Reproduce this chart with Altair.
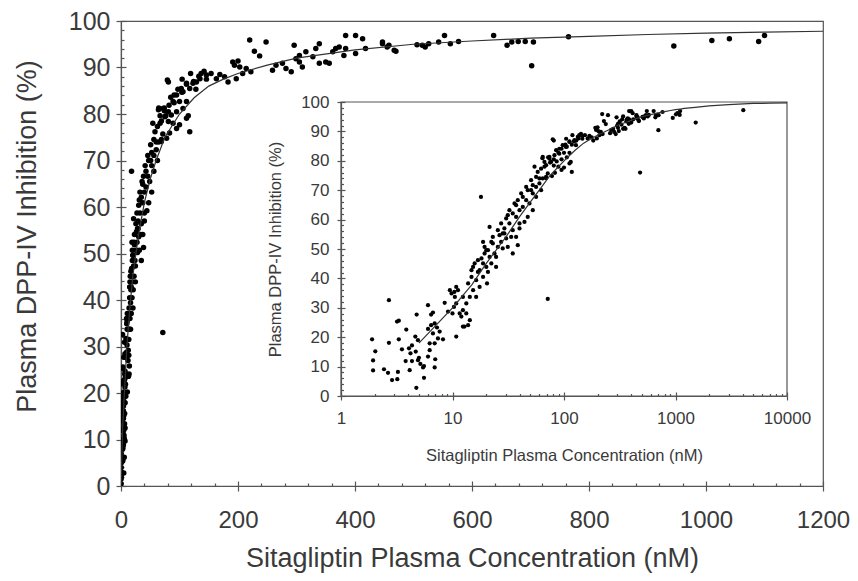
import altair as alt
import pandas as pd

# ---------------- data ----------------
conc_sub = [0.2, 0.3, 0.5, 0.5, 0.6, 0.7, 0.8, 0.9, 0.95, 0.4, 0.85, 0.75, 0.4, 0.9, 0.6]
inh_sub = [1.5, 0.5, 2.0, 10.0, 5.0, 3.0, 8.0, 12.0, 6.0, 4.0, 14.0, 10.0, 7.0, 22.0, 17.0]

conc_low = [1.90, 2.03, 1.94, 1.94, 2.43, 2.64, 2.87, 3.20, 3.24, 2.69, 2.69, 3.18, 3.30, 3.30, 3.85,
            3.52, 4.07, 4.33, 3.80, 4.13, 4.77, 4.64, 4.90, 4.68, 4.33, 4.90, 5.15, 5.44, 5.55, 4.74,
            5.55, 6.03, 6.68, 6.43, 6.03, 6.43, 6.68, 6.92, 7.26, 7.67, 6.24, 6.24, 6.03, 6.92, 7.40,
            8.22, 6.92, 8.51, 9.12, 10.0, 10.8, 10.4, 4.20, 5.00, 7.00]
inh_low = [19.3, 15.2, 12.1, 8.7, 9.1, 7.9, 5.4, 5.7, 8.2, 18.1, 32.6, 25.3, 25.6, 19.3, 22.6,
           15.9, 16.2, 17.2, 11.9, 8.8, 27.7, 20.2, 19.0, 15.1, 11.9, 12.2, 10.9, 9.7, 10.2, 2.8,
           6.2, 30.9, 28.4, 27.7, 22.8, 24.1, 21.3, 24.7, 23.3, 21.9, 17.9, 15.6, 13.4, 17.9, 19.6,
           19.3, 9.7, 31.7, 28.7, 28.1, 20.2, 35.4, 14.5, 13.0, 12.5]

conc_mid = [9.47, 9.8, 10.3, 10.8, 11.2, 11.6, 12.0, 12.4, 12.8, 13.8, 14.3, 12.4, 13.3, 13.8, 14.3,
            14.8, 15.3, 15.3, 16.3, 16.3, 16.9, 18.0, 17.5, 17.5, 18.8, 18.8, 19.4, 20.1, 20.4, 20.8,
            21.5, 22.3, 23.0, 23.8, 24.6, 25.5, 24.6, 18.8, 22.3, 20.1, 26.4, 27.3, 28.2, 29.2, 29.2,
            30.3, 31.3, 31.3, 32.4, 33.6, 34.7, 34.7, 37.2, 37.2, 37.2, 38.5, 39.9, 39.9, 39.9, 42.7,
            44.2, 45.8, 47.3, 49.0, 50.7, 52.5, 52.5, 54.4, 56.2, 56.2, 60.2, 62.3, 64.5, 64.5, 66.8,
            69.1, 71.5, 71.5, 74.0, 79.3, 90.8, 104.5, 119, 128, 115]
inh_mid = [36.0, 34.9, 30.3, 37.1, 36.0, 28.1, 27.0, 23.6, 23.6, 24.1, 25.8, 33.7, 31.5, 38.3, 33.7,
           40.5, 43.9, 36.0, 39.4, 33.7, 46.2, 67.7, 42.8, 37.1, 45.1, 40.5, 48.5, 43.9, 38.3, 42.2,
           57.5, 45.1, 51.9, 48.5, 47.3, 50.7, 43.9, 52.4, 52.4, 49.6, 54.7, 52.4, 50.2, 55.3, 57.0,
           53.6, 50.7, 61.5, 58.7, 54.1, 56.4, 48.5, 60.9, 54.1, 64.9, 51.3, 63.2, 58.7, 57.0, 64.3,
           59.2, 66.6, 60.9, 65.5, 70.0, 68.9, 63.2, 78.0, 67.7, 71.1, 72.3, 70.0, 74.0, 81.3, 78.0,
           74.5, 75.7, 33.0, 81.3, 87.3, 84.1, 87.5, 88.7, 85.3, 79.6]

conc_band = [14.8, 15.8, 16.9, 18.2, 19.4, 20.8, 21.5, 23.0, 25.5, 27.3, 28.2, 30.3, 32.4, 34.7, 36.0,
             38.5, 41.3, 42.7, 45.8, 47.3, 50.7, 52.5, 56.2, 58.1, 60.2, 62.3, 66.8, 69.1, 74.0, 76.6,
             82.1, 85.0, 90.8, 97.3, 104, 112, 124, 133, 142, 146, 12.4, 13.3, 10.8, 10.5]
inh_band = [42.8, 45.1, 42.2, 46.8, 50.7, 49.6, 47.3, 54.1, 56.4, 58.7, 55.3, 60.4, 63.2, 62.1, 65.5,
            66.6, 68.9, 67.7, 71.1, 70.0, 73.4, 71.7, 74.5, 76.2, 74.0, 77.3, 79.6, 78.5, 80.7, 79.6,
            81.9, 83.6, 82.4, 85.3, 84.7, 86.4, 87.0, 88.1, 89.2, 87.5, 29.2, 28.1, 31.5, 33.7]

conc_high = [220, 248, 228, 237, 200, 191, 194, 203, 214, 222, 208, 197, 183, 177, 169,
             163, 154, 146, 137, 135, 129, 123, 112, 117.5, 106, 103, 95, 89, 100, 112,
             106, 95, 86, 81, 72, 64, 75, 81, 89, 100, 117.5, 112, 95, 83, 78,
             69, 81, 265, 276, 282, 259, 291, 305, 310, 299, 296, 305, 316, 328, 333,
             339, 339, 350, 356, 362, 367, 373, 384, 384, 381, 401, 413, 401, 418, 447,
             458, 467]
inh_high = [95.9, 95.5, 93.5, 92.5, 91.4, 91.2, 90.5, 90.1, 89.8, 89.1, 88.7, 87.6, 86.9, 88.0, 88.5,
            87.6, 88.7, 88.4, 88.7, 87.6, 86.9, 86.6, 86.6, 85.5, 84.8, 85.5, 84.1, 82.7, 82.7, 82.7,
            81.2, 80.5, 79.8, 80.5, 81.2, 80.9, 79.4, 78.4, 78.0, 77.7, 76.2, 79.1, 76.9, 75.9, 74.8,
            74.1, 86.9, 90.5, 90.9, 89.8, 89.4, 89.1, 91.2, 90.1, 91.9, 94.8, 92.6, 93.4, 92.3, 94.1,
            95.1, 90.9, 91.2, 90.9, 93.4, 94.1, 94.4, 96.9, 94.1, 92.6, 96.9, 96.2, 93.0, 94.1, 95.5,
            94.8, 93.7]

conc_top = [447, 455, 470, 506, 515, 520, 526, 543, 553, 563, 577, 637, 660, 668, 679,
            691, 705, 702, 765, 945, 1010, 1040, 1090, 1100, 481, 1518, 4056]
inh_top = [95.1, 94.4, 93.5, 94.9, 94.8, 94.4, 95.1, 95.5, 96.9, 95.1, 95.6, 96.9, 94.8, 95.5, 95.6,
           95.6, 95.5, 90.4, 96.6, 94.6, 95.8, 96.2, 95.6, 96.9, 76.0, 93.0, 97.2]

curve_conc = [0, 2, 3, 5, 10, 15, 20, 30, 40, 50, 60, 75, 100, 125, 150, 175, 200, 250, 300, 400,
              500, 600, 700, 800, 900, 1000, 1100, 1200, 1500, 2000, 3000, 5000, 7000, 10000]
curve_inh = [0, 9, 13, 18, 30, 38, 45, 54, 61, 66, 70, 75, 80, 83.5, 86, 87.5, 88.7, 90.5, 92, 93.8,
             95, 95.7, 96.3, 96.7, 97.1, 97.4, 97.6, 97.8, 98.2, 98.7, 99.1, 99.5, 99.6, 99.7]

main_x_major = [0, 200, 400, 600, 800, 1000, 1200]
main_x_minor = [40, 80, 120, 160, 240, 280, 320, 360, 440, 480, 520, 560, 640, 680, 720, 760,
                840, 880, 920, 960, 1040, 1080, 1120, 1160]
y_major = [0, 10, 20, 30, 40, 50, 60, 70, 80, 90, 100]
y_minor = [2, 4, 6, 8, 12, 14, 16, 18, 22, 24, 26, 28, 32, 34, 36, 38, 42, 44, 46, 48, 52, 54, 56, 58,
           62, 64, 66, 68, 72, 74, 76, 78, 82, 84, 86, 88, 92, 94, 96, 98]
inset_x_major = [1, 10, 100, 1000, 10000]
inset_x_minor = [2, 3, 4, 5, 6, 7, 8, 9, 20, 30, 40, 50, 60, 70, 80, 90, 200, 300, 400, 500, 600,
                 700, 800, 900, 2000, 3000, 4000, 5000, 6000, 7000, 8000, 9000]
inset_box = {"x0": [1], "x1": [10000], "y0": [0], "y1": [100]}

# ---------------- tables ----------------
pts = pd.DataFrame({
    "conc": conc_sub + conc_low + conc_mid + conc_band + conc_high + conc_top,
    "inh": inh_sub + inh_low + inh_mid + inh_band + inh_high + inh_top,
})
curve = pd.DataFrame({"conc": curve_conc, "inh": curve_inh})
box = pd.DataFrame(inset_box)

FONT = "Liberation Sans"
AXC = "#555555"
TXT = "#3a3a3a"
W, H = 702, 465

base = dict(grid=False, domainColor=AXC, tickColor=AXC, labelColor=TXT, titleColor=TXT,
            labelFont=FONT, titleFont=FONT, titleFontWeight="normal", tickWidth=1.2,
            domainWidth=1.2, labelFlush=False, labelOverlap=False)
hidden = dict(grid=False, tickColor=AXC, tickWidth=1.2, labels=False, domain=False, title="")

# main scales
mxs = alt.Scale(domain=[0, 1200], nice=False, zero=False)
mys = alt.Scale(domain=[0, 100], nice=False, zero=False)
# inset scales (placed inside the plot by their pixel ranges)
ixs = alt.Scale(type="log", domain=[1, 10000], range=[220, 666], nice=False)
iys = alt.Scale(domain=[0, 100], range=[375, 81], nice=False, zero=False)

MX1 = alt.Axis(orient="bottom", values=main_x_major, format="d", tickSize=5, labelFontSize=24,
               labelPadding=17, title="Sitagliptin Plasma Concentration (nM)", titleFontSize=27,
               titleY=72, titleBaseline="middle", **base)
MX2 = alt.Axis(orient="bottom", values=main_x_major, tickSize=5, offset=-5, **hidden)
MX3 = alt.Axis(orient="bottom", values=main_x_minor, tickSize=3, offset=-3, **hidden)
MY1 = alt.Axis(orient="left", values=y_major, tickSize=5, labelFontSize=25, labelPadding=6,
               title="Plasma DPP-IV Inhibition (%)", titleFontSize=27, titleX=-94, titleY=215,
               titleBaseline="middle", **base)
MY2 = alt.Axis(orient="left", values=y_major, tickSize=5, offset=-5, **hidden)
MY3 = alt.Axis(orient="left", values=y_minor, tickSize=3, offset=-3, **hidden)

IX1 = alt.Axis(orient="bottom", values=inset_x_major, format="d", tickSize=4, offset=-90,
               labelFontSize=17, labelPadding=10, title="Sitagliptin Plasma Concentration (nM)",
               titleFontSize=16.5, titleY=59, titleBaseline="middle", zindex=1, **base)
IX2 = alt.Axis(orient="bottom", values=inset_x_major, tickSize=4, offset=-94, zindex=1, **hidden)
IX3 = alt.Axis(orient="bottom", values=inset_x_minor, tickSize=2.5, offset=-92.5, zindex=1, **hidden)
IY1 = alt.Axis(orient="left", values=y_major, tickSize=4, offset=-220, labelFontSize=17,
               labelPadding=8, title="Plasma DPP-IV Inhibition (%)", titleFontSize=16.5,
               titleX=-66, titleBaseline="middle", zindex=1, **base)
IY2 = alt.Axis(orient="left", values=y_major, tickSize=4, offset=-224, zindex=1, **hidden)
IY3 = alt.Axis(orient="left", values=y_minor, tickSize=2.5, offset=-222.5, zindex=1, **hidden)

# ---------------- main panel ----------------
main_pts = alt.Chart(pts).mark_circle(size=30, color="black", opacity=1, clip=True).encode(
    x=alt.X("conc:Q", scale=mxs, axis=MX1),
    y=alt.Y("inh:Q", scale=mys, axis=MY1),
)
main_curve = alt.Chart(curve).transform_filter("datum.conc <= 1200").mark_line(
    color="#333333", strokeWidth=1.2, clip=True).encode(
    x=alt.X("conc:Q", scale=mxs, axis=MX2),
    y=alt.Y("inh:Q", scale=mys, axis=MY2),
)
main_ticks = alt.Chart(curve).transform_filter("datum.conc <= 1200").mark_line(opacity=0).encode(
    x=alt.X("conc:Q", scale=mxs, axis=MX3),
    y=alt.Y("inh:Q", scale=mys, axis=MY3),
)
main = alt.layer(main_pts, main_curve, main_ticks).resolve_axis(x="independent", y="independent")

# ---------------- inset panel ----------------
inset_bg = alt.Chart(box).mark_rect(fill="white", stroke=AXC, strokeWidth=1.2).encode(
    x=alt.X("x0:Q", scale=ixs, axis=IX1), x2="x1:Q",
    y=alt.Y("y0:Q", scale=iys, axis=IY1), y2="y1:Q",
)
inset_pts = alt.Chart(pts).transform_filter("datum.conc >= 1").mark_circle(
    size=18, color="black", opacity=1).encode(
    x=alt.X("conc:Q", scale=ixs, axis=IX2),
    y=alt.Y("inh:Q", scale=iys, axis=IY2),
)
inset_curve = alt.Chart(curve).transform_filter("datum.conc >= 5").mark_line(
    color="#333333", strokeWidth=1.2).encode(
    x=alt.X("conc:Q", scale=ixs, axis=IX3),
    y=alt.Y("inh:Q", scale=iys, axis=IY3),
)
inset = alt.layer(inset_bg, inset_pts, inset_curve).resolve_axis(x="independent", y="independent")

chart = alt.layer(main, inset).resolve_scale(x="independent", y="independent").properties(
    width=W, height=H,
    autosize=alt.AutoSizeParams(type="none"),
    padding={"left": 113, "top": 13, "right": 27, "bottom": 87},
    background="white",
).configure_view(stroke=AXC, strokeWidth=1.2)

chart.save("out.html", embed_options={"renderer": "svg", "actions": False})
